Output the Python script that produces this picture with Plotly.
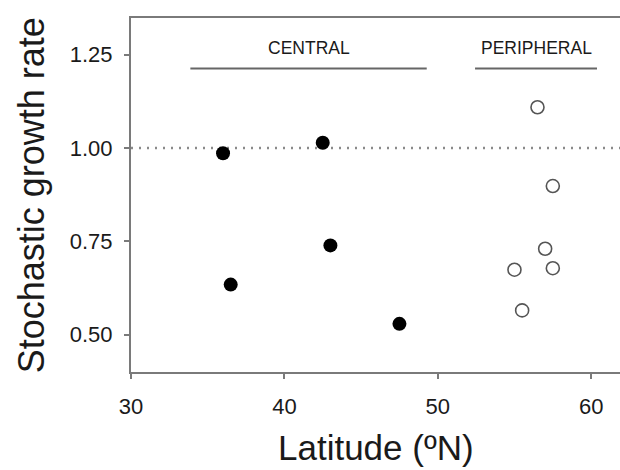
import plotly.graph_objects as go

# Central populations (filled) and peripheral populations (open)
central_lat = [36.0, 42.5, 36.5, 43.0, 47.5]
central_rate = [0.986, 1.014, 0.634, 0.739, 0.529]

peripheral_lat = [56.5, 57.5, 57.0, 55.0, 57.5, 55.5]
peripheral_rate = [1.109, 0.898, 0.730, 0.674, 0.678, 0.565]

# Group bars drawn above the points: (label, start, end)
groups = [("CENTRAL", 33.87, 49.28), ("PERIPHERAL", 52.43, 60.38)]

x_ticks = [30, 40, 50, 60]
y_ticks = [0.50, 0.75, 1.00, 1.25]

FONT = "Liberation Sans, Arial, sans-serif"
AXIS_COLOR = "#7a7a7a"
TEXT_COLOR = "#1a1a1a"

fig = go.Figure()

fig.add_trace(go.Scatter(
    x=central_lat, y=central_rate, mode="markers",
    marker=dict(size=14, color="black", line=dict(width=0)),
    showlegend=False, cliponaxis=False,
))
fig.add_trace(go.Scatter(
    x=peripheral_lat, y=peripheral_rate, mode="markers",
    marker=dict(size=13, color="white", line=dict(width=1.6, color="#555555")),
    showlegend=False, cliponaxis=False,
))

# Reference line at a growth rate of 1
fig.add_shape(type="line", xref="paper", x0=0, x1=1, yref="y", y0=1.0, y1=1.0,
              line=dict(color="#8a8a8a", width=2.5, dash="2px,6px"), layer="below")

for label, x0, x1 in groups:
    fig.add_shape(type="line", xref="x", yref="y", x0=x0, x1=x1, y0=1.2126, y1=1.2126,
                  line=dict(color="#666666", width=2))
    fig.add_annotation(x=(x0 + x1) / 2, y=1.268, text=label, showarrow=False,
                       xanchor="center", yanchor="middle",
                       font=dict(family=FONT, size=17.5, color=TEXT_COLOR))

# Axis titles
fig.add_annotation(xref="paper", yref="paper", x=0.502, y=-0.2138,
                   text="Latitude (ºN)", showarrow=False,
                   xanchor="center", yanchor="middle",
                   font=dict(family=FONT, size=35, color=TEXT_COLOR))
fig.add_annotation(xref="paper", yref="paper", x=-0.2038, y=0.5,
                   text="Stochastic growth rate", showarrow=False, textangle=-90,
                   xanchor="center", yanchor="middle",
                   font=dict(family=FONT, size=36, color=TEXT_COLOR))

fig.update_layout(
    width=620, height=470,
    margin=dict(l=131, r=0, t=18, b=98),
    paper_bgcolor="white", plot_bgcolor="white",
    font=dict(family=FONT),
    showlegend=False,
)

fig.update_xaxes(
    range=[30, 61.88], tickvals=x_ticks, ticktext=[str(v) for v in x_ticks],
    showgrid=False, zeroline=False,
    showline=True, linecolor=AXIS_COLOR, linewidth=2, mirror=True,
    ticks="outside", ticklen=5, tickwidth=1.5, tickcolor=AXIS_COLOR,
    tickfont=dict(family=FONT, size=22, color=TEXT_COLOR),
    ticklabelstandoff=9,
)
fig.update_yaxes(
    range=[0.40, 1.348], tickvals=y_ticks, ticktext=[f"{v:.2f}" for v in y_ticks],
    showgrid=False, zeroline=False,
    showline=True, linecolor=AXIS_COLOR, linewidth=2, mirror=False,
    ticks="outside", ticklen=5, tickwidth=1.5, tickcolor=AXIS_COLOR,
    tickfont=dict(family=FONT, size=22, color=TEXT_COLOR),
    ticklabelstandoff=7,
)

fig.write_html("out.html")
